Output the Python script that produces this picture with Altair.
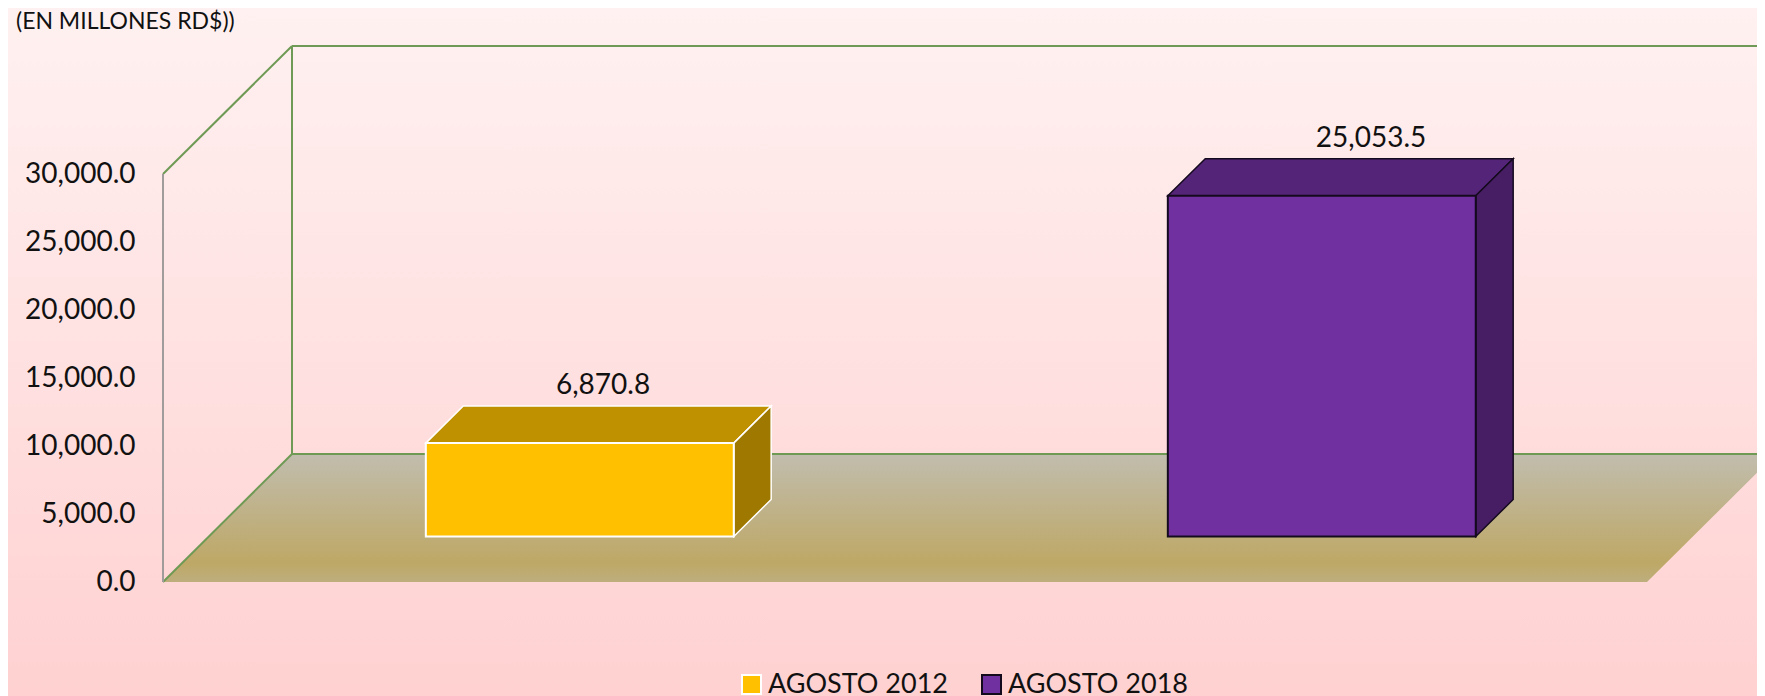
import altair as alt
import pandas as pd

# ---- chart values ----
series = ["AGOSTO 2012", "AGOSTO 2018"]
values = [6870.8, 25053.5]
value_labels = ["6,870.8", "25,053.5"]
tick_values = [0, 5000, 10000, 15000, 20000, 25000, 30000]
unit_note = "(EN MILLONES RD$))"
fill_front = ["#FFC000", "#7030A0"]
fill_top = ["#BF9000", "#542478"]
fill_side = ["#9F7800", "#471E64"]
edge = ["#FFFFFF", "#140A1E"]
label_shift = [-0.019, 0.016]

# ---- oblique projection of the 3-D box (category units, value units, depth 0..1) ----
W, H = 1749, 688
PX_PER_CAT = 742.0
PX_PER_VAL = 0.0136
DEPTH_CAT = 129 / PX_PER_CAT
DEPTH_VAL = 128 / PX_PER_VAL
BAR_W = 0.415
D0, D1 = 0.355, 0.645
X0, Y0 = 155, 574
x_scale = alt.Scale(domain=[-X0 / PX_PER_CAT, (W - X0) / PX_PER_CAT], range=[0, W], nice=False, zero=False)
y_scale = alt.Scale(domain=[-(H - Y0) / PX_PER_VAL, Y0 / PX_PER_VAL], range=[H, 0], nice=False, zero=False)
AXIS_MAX = tick_values[-1]
CATS = len(series)


def px(u, d=0.0):
    return u + d * DEPTH_CAT


def py(v, d=0.0):
    return v + d * DEPTH_VAL


X = alt.X("x:Q", scale=x_scale, axis=None)
Y = alt.Y(
    "y:Q", scale=y_scale,
    axis=alt.Axis(
        values=tick_values, format=",.1f", title=None, domain=False, ticks=False, grid=False,
        offset=-127, labelPadding=0, labelFont="Lato", labelFontSize=28, labelColor="#111111",
        zindex=1,
    ),
)

background = alt.Chart(pd.DataFrame({"a": [0]})).mark_rect(
    color=alt.Gradient(
        gradient="linear", x1=0, y1=0, x2=0, y2=1,
        stops=[alt.GradientStop(color="#FFF1F1", offset=0), alt.GradientStop(color="#FFD1D1", offset=1)],
    )
).encode(x=alt.value(0), x2=alt.value(W), y=alt.value(0), y2=alt.value(H))

# floor
floor_df = pd.DataFrame({
    "y": [py(0, 0), py(0, 1)],
    "x": [px(0, 0), px(0, 1)],
    "x2": [px(CATS, 0), px(CATS, 1)],
})
floor = alt.Chart(floor_df).mark_area(
    orient="horizontal", clip=True,
    color=alt.Gradient(
        gradient="linear", x1=0, y1=0, x2=0, y2=1,
        stops=[
            alt.GradientStop(color="#C1BDAE", offset=0),
            alt.GradientStop(color="#BEA866", offset=0.85),
            alt.GradientStop(color="#BDAE7D", offset=1),
        ],
    ),
).encode(y=Y, x=X, x2="x2:Q")

# wall outlines
walls = [
    [(0, AXIS_MAX, 0), (0, AXIS_MAX, 1)],
    [(0, AXIS_MAX, 1), (CATS, AXIS_MAX, 1)],
    [(0, 0, 1), (0, AXIS_MAX, 1)],
    [(0, 0, 0), (0, 0, 1)],
    [(0, 0, 1), (CATS, 0, 1)],
]
wall_rows = []
for i, seg in enumerate(walls):
    for u, v, d in seg:
        wall_rows.append({"seg": i, "x": px(u, d), "y": py(v, d)})
wall_lines = alt.Chart(pd.DataFrame(wall_rows)).mark_line(color="#6F9A55", strokeWidth=2, clip=True).encode(
    x=X, y=Y, detail="seg:N"
)
left_edge = alt.Chart(pd.DataFrame({"x": [0, 0], "y": [0, AXIS_MAX]})).mark_line(
    color="#A09C9C", strokeWidth=2
).encode(x=X, y=Y)

# bars
layers = [background, floor, wall_lines, left_edge]
front_rows = []
label_rows = []
for i, (s, v) in enumerate(zip(series, values)):
    left = i + 0.5 - BAR_W / 2
    right = i + 0.5 + BAR_W / 2
    top_df = pd.DataFrame({
        "y": [py(v, D0), py(v, D1)],
        "x": [px(left, D0), px(left, D1)],
        "x2": [px(right, D0), px(right, D1)],
    })
    side_df = pd.DataFrame({
        "x": [px(right, D0), px(right, D1)],
        "y": [py(0, D0), py(0, D1)],
        "y2": [py(v, D0), py(v, D1)],
    })
    layers.append(alt.Chart(top_df).mark_area(
        orient="horizontal", color=fill_top[i], stroke=edge[i], strokeWidth=1.5
    ).encode(y=Y, x=X, x2="x2:Q"))
    layers.append(alt.Chart(side_df).mark_area(
        orient="vertical", color=fill_side[i], stroke=edge[i], strokeWidth=1.5
    ).encode(x=X, y=Y, y2="y2:Q"))
    front_rows.append({
        "serie": s, "x": px(left, D0), "x2": px(right, D0), "y": py(0, D0), "y2": py(v, D0),
    })
    label_rows.append({
        "t": value_labels[i], "x": px(i + 0.5 + label_shift[i], D1), "y": py(v, D1),
    })

legend = alt.Legend(
    orient="none", legendX=730, legendY=663, direction="horizontal", title=None,
    symbolType="square", symbolSize=361, symbolStrokeWidth=2, labelFont="Lato", labelFontSize=27,
    labelColor="#111111", labelOffset=3, columnPadding=29, padding=0, labelLimit=400,
)
front = alt.Chart(pd.DataFrame(front_rows)).mark_rect(strokeWidth=2).encode(
    x=X, x2="x2:Q", y=Y, y2="y2:Q",
    fill=alt.Fill("serie:N", scale=alt.Scale(domain=series, range=fill_front), legend=legend),
    stroke=alt.Stroke("serie:N", scale=alt.Scale(domain=series, range=edge), legend=legend),
)
layers.append(front)

labels = alt.Chart(pd.DataFrame(label_rows)).mark_text(
    font="Lato", fontSize=28, color="#111111", baseline="middle", align="center", dy=-20
).encode(x=X, y=Y, text="t:N")
layers.append(labels)

note = alt.Chart(pd.DataFrame({"t": [unit_note]})).mark_text(
    font="Lato", fontSize=23, color="#111111", align="left", baseline="middle"
).encode(x=alt.value(8), y=alt.value(14), text="t:N")
layers.append(note)

chart = alt.layer(*layers).properties(
    width=W, height=H, padding=0, background="#FFE4E4",
    autosize=alt.AutoSizeParams(type="none"),
).configure_view(stroke=None)

chart.save("out.html", embed_options={"renderer": "svg", "actions": False})
